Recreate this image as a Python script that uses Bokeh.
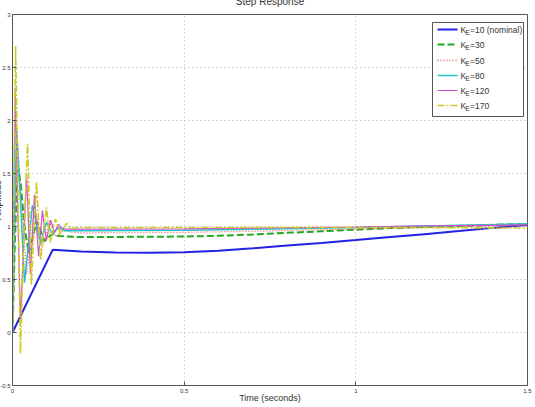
from bokeh.plotting import figure
from bokeh.models import Range1d, FixedTicker
from bokeh.core.properties import value
from bokeh.embed import file_html
from bokeh.resources import INLINE

# ---------------- data ----------------
x_ticks = [0, 0.5, 1, 1.5]
x_tick_labels = ["0", "0.5", "1", "1.5"]
y_ticks = [-0.5, 0, 0.5, 1, 1.5, 2, 2.5, 3]
y_tick_labels = ["-0.5", "0", "0.5", "1", "1.5", "2", "2.5", "3"]

gain_labels = ["10 (nominal)", "30", "50", "80", "120", "170"]

t_k10 = [0, 0.117, 0.2, 0.3, 0.4, 0.5, 0.6, 0.7, 0.8, 0.9, 1.0, 1.1, 1.2, 1.3, 1.4, 1.5]
a_k10 = [0, 0.78, 0.765, 0.755, 0.752, 0.757, 0.772, 0.795, 0.82, 0.845, 0.872, 0.9, 0.928, 0.957, 0.987, 1.015]

t_k30 = [0, 0.006, 0.012, 0.017, 0.024, 0.035, 0.047, 0.058, 0.07, 0.082, 0.093, 0.105, 0.117, 0.135,
         0.2, 0.5, 0.6, 0.7, 0.8, 0.9, 1.0, 1.1, 1.2, 1.3, 1.4, 1.5]
a_k30 = [0, 0.75, 1.35, 1.55, 1.4, 1.0, 0.75, 0.88, 1.05, 0.96, 0.86, 0.9, 0.93, 0.91,
         0.9, 0.905, 0.912, 0.925, 0.94, 0.955, 0.97, 0.985, 0.995, 1.005, 1.015, 1.025]

t_k50 = [0, 0.007, 0.015, 0.028, 0.041, 0.052, 0.064, 0.076, 0.087, 0.098, 0.108, 0.118, 0.128, 0.138,
         0.149, 0.17, 0.2, 0.5, 0.7, 1.0, 1.2, 1.5]
a_k50 = [0, 1.0, 1.75, 1.15, 0.55, 0.85, 1.2, 1.0, 0.8, 0.93, 1.05, 0.97, 0.9, 0.94,
         0.97, 0.945, 0.94, 0.945, 0.955, 0.975, 0.99, 1.01]

t_k80 = [0, 0.006, 0.012, 0.024, 0.035, 0.047, 0.058, 0.07, 0.082, 0.09, 0.099, 0.108, 0.117, 0.125,
         0.134, 0.15, 0.2, 0.5, 0.7, 1.0, 1.2, 1.5]
a_k80 = [0, 1.1, 1.93, 1.2, 0.47, 0.85, 1.2, 1.02, 0.83, 0.94, 1.04, 0.98, 0.92, 0.96,
         0.99, 0.96, 0.96, 0.965, 0.975, 0.99, 1.005, 1.025]

t_k120 = [0, 0.003, 0.008, 0.015, 0.023, 0.032, 0.041, 0.047, 0.052, 0.058, 0.064, 0.07, 0.076, 0.082,
          0.087, 0.093, 0.099, 0.105, 0.111, 0.117, 0.122, 0.128, 0.134, 0.142, 0.151, 0.2, 0.5, 0.7,
          1.0, 1.2, 1.5]
a_k120 = [0, 1.1, 2.3, 1.2, 0.1, 0.8, 1.5, 1.0, 0.55, 0.9, 1.3, 1.0, 0.72, 0.95,
          1.15, 1.0, 0.87, 0.97, 1.06, 1.0, 0.94, 0.98, 1.02, 0.99, 0.975, 0.975, 0.978, 0.985,
          0.995, 1.005, 1.015]

t_k170 = [0, 0.004, 0.009, 0.016, 0.023, 0.033, 0.044, 0.05, 0.055, 0.062, 0.07, 0.076, 0.082, 0.09,
          0.099, 0.105, 0.111, 0.118, 0.125, 0.132, 0.14, 0.148, 0.157, 0.17, 0.19, 0.3, 0.5, 0.8,
          1.0, 1.2, 1.5]
a_k170 = [0, 1.5, 2.7, 1.3, -0.2, 0.9, 1.78, 1.1, 0.45, 0.95, 1.42, 1.05, 0.68, 0.95,
          1.18, 1.0, 0.85, 0.97, 1.07, 1.0, 0.93, 0.98, 1.03, 0.98, 0.99, 0.99, 0.99, 0.99,
          0.99, 0.99, 0.985]

series_t = [t_k10, t_k30, t_k50, t_k80, t_k120, t_k170]
series_a = [a_k10, a_k30, a_k50, a_k80, a_k120, a_k170]

# ---------------- styles ----------------
colors = ["#2222e6", "#22a822", "#f05a5a", "#22c4c4", "#d050d0", "#cccc1e"]
dashes = ["solid", "7 3", "1 2", "solid", "solid", "7 2 2 2"]
widths = [2.0, 2.0, 1.3, 1.5, 1.2, 1.6]

FONT = "Liberation Sans"
TXT = "#333333"

X0, X1 = 0.0, 1.5
Y0, Y1 = -0.5, 3.0
FW, FH = 515, 371

p = figure(frame_width=FW, frame_height=FH, output_backend="svg", toolbar_location=None,
           x_range=Range1d(X0, X1), y_range=Range1d(Y0, Y1),
           min_border_left=0, min_border_right=8, min_border_top=0, min_border_bottom=0,
           background_fill_color="white", border_fill_color="white",
           title="Step Response", margin=(-15, 0, 0, -10))
p.title.text_font = FONT
p.title.text_font_size = "10px"
p.title.text_font_style = "normal"
p.title.text_color = TXT
p.title.align = "center"
p.title.standoff = 16

p.outline_line_color = "#555555"
p.outline_line_width = 1

p.xaxis.ticker = FixedTicker(ticks=x_ticks)
p.yaxis.ticker = FixedTicker(ticks=y_ticks)
p.xaxis.major_label_overrides = dict(zip(x_ticks, x_tick_labels))
p.yaxis.major_label_overrides = dict(zip(y_ticks, y_tick_labels))
for ax in (p.xaxis, p.yaxis):
    ax.major_tick_in = 4
    ax.major_tick_out = 0
    ax.minor_tick_in = 0
    ax.minor_tick_out = 0
    ax.axis_line_color = "#555555"
    ax.major_tick_line_color = "#555555"
    ax.major_label_text_font = FONT
    ax.major_label_text_font_size = "6px"
    ax.major_label_text_color = TXT
    ax.axis_label_text_font = FONT
    ax.axis_label_text_font_style = "normal"
    ax.axis_label_text_color = TXT
p.xaxis.axis_label = "Time (seconds)"
p.xaxis.axis_label_text_font_size = "9px"
p.xaxis.axis_label_standoff = -3
p.xaxis.major_label_standoff = 3
p.yaxis.axis_label = "Amplitude"
p.yaxis.axis_label_text_font_size = "9px"
p.yaxis.axis_label_standoff = -6
p.yaxis.major_label_standoff = 2

p.grid.grid_line_color = "#b0b0b0"
p.grid.grid_line_dash = "1 3"
p.grid.grid_line_width = 1
p.xgrid.ticker = FixedTicker(ticks=x_ticks)
p.ygrid.ticker = FixedTicker(ticks=y_ticks)

for t, a, c, d, w in zip(series_t, series_a, colors, dashes, widths):
    p.line(t, a, line_color=c, line_dash=d, line_width=w)

# ---------------- legend (drawn inside the frame) ----------------
def xd(px):
    return X0 + (px - 12) / FW * (X1 - X0)

def yd(py):
    return Y1 - (py - 15) / FH * (Y1 - Y0)

p.quad(left=[xd(432)], right=[xd(523)], top=[yd(23)], bottom=[yd(117)],
       fill_color="white", line_color="#555555", line_width=1)
rows = [30, 45, 61, 76, 91, 106]
for r, lab, c, d, w in zip(rows, gain_labels, colors, dashes, widths):
    yy = yd(r)
    p.line([xd(437), xd(457)], [yy, yy], line_color=c, line_dash=d, line_width=w)
    p.text(x=[xd(460)], y=[yy], text=["K"], text_font=value(FONT), text_font_size="8.5px",
           text_color=TXT, text_baseline="middle", text_align="left")
    p.text(x=[xd(460)], y=[yy], text=["E"], text_font=value(FONT), text_font_size="6.5px",
           text_color=TXT, text_baseline="middle", text_align="left", x_offset=5, y_offset=3)
    p.text(x=[xd(460)], y=[yy], text=["=" + lab], text_font=value(FONT), text_font_size="8.5px",
           text_color=TXT, text_baseline="middle", text_align="left", x_offset=9.5)

open("out.html", "w").write(file_html(p, INLINE))
